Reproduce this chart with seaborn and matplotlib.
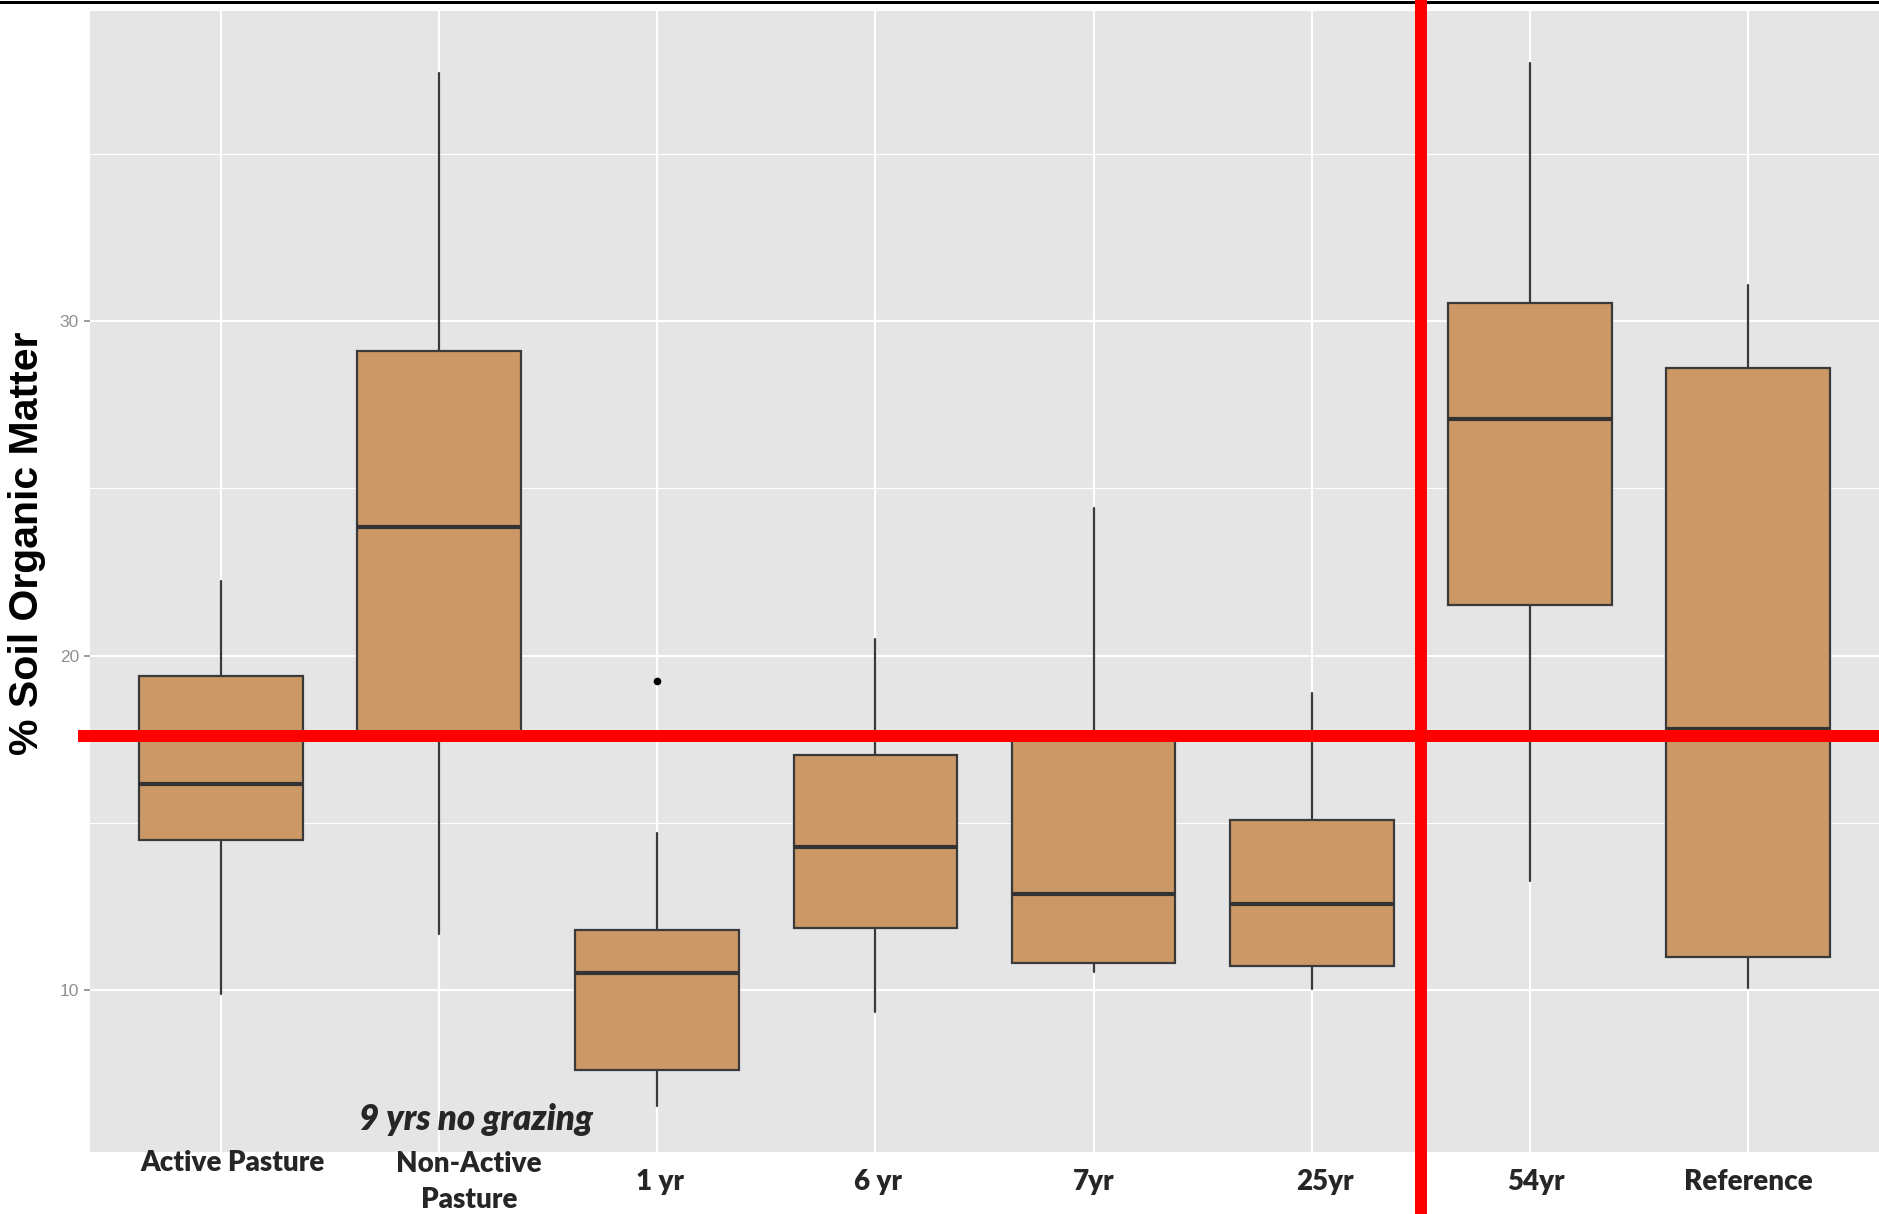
import matplotlib
matplotlib.use("Agg")
import matplotlib.pyplot as plt
import matplotlib.transforms as mtransforms
from matplotlib.lines import Line2D
import seaborn as sns

# Soil organic matter (%) summary statistics per land-use / restoration age
categories = ["Active Pasture", "Non-Active\nPasture", "1 yr", "6 yr", "7yr", "25yr", "54yr", "Reference"]
whisker_low = [9.89, 11.68, 6.52, 9.35, 10.54, 10.04, 13.26, 10.07]
q1 = [14.48, 17.60, 7.60, 11.86, 10.82, 10.72, 21.51, 11.00]
median = [16.16, 23.83, 10.50, 14.27, 12.87, 12.58, 27.06, 17.80]
q3 = [19.39, 29.10, 11.79, 17.03, 17.50, 15.09, 30.54, 28.60]
whisker_high = [22.22, 37.42, 14.70, 20.50, 24.41, 18.89, 37.71, 31.08]
outliers = [[], [], [19.25], [], [], [], [], []]

reference_level = 17.59      # horizontal marker across all groups
divider_position = 5.5       # vertical divider between 25yr and 54yr
note_text = "9 yrs no grazing"

sns.set_theme(style="darkgrid")
plt.rcParams["font.family"] = ["Liberation Sans", "DejaVu Sans"]

W, H = 1879, 1214
fig = plt.figure(figsize=(W / 100, H / 100), dpi=100)
fig.patch.set_facecolor("white")
ax = fig.add_axes([90 / W, (H - 1152) / H, (W - 90) / W, (1152 - 11) / H])
ax.set_facecolor("#E5E5E5")

stats = []
for i, name in enumerate(categories):
    stats.append(dict(label=name, whislo=whisker_low[i], q1=q1[i], med=median[i],
                      q3=q3[i], whishi=whisker_high[i], fliers=outliers[i]))

edge = "#3a3a3a"
ax.bxp(stats, positions=list(range(len(categories))), widths=0.75,
       patch_artist=True, showcaps=False, manage_ticks=False,
       boxprops=dict(facecolor="#CC9866", edgecolor=edge, linewidth=1.6),
       medianprops=dict(color="#333333", linewidth=3.0, solid_capstyle="butt"),
       whiskerprops=dict(color=edge, linewidth=1.6),
       flierprops=dict(marker="o", markerfacecolor="black", markeredgecolor="black",
                       markersize=4.5))

ax.set_xlim(-0.6, len(categories) - 0.4)
ax.set_ylim(5.157, 39.27)
ax.set_xticks(range(len(categories)))
ax.set_xticklabels([])
ax.set_yticks([10, 20, 30])
ax.set_yticks([15, 25, 35], minor=True)
ax.set_axisbelow(True)
ax.grid(which="major", color="white", linewidth=1.5)
ax.grid(which="minor", axis="y", color="white", linewidth=0.8)
ax.tick_params(axis="x", which="both", length=0)
ax.tick_params(axis="y", which="major", length=4, width=1.2, color="#8a8a8a",
               labelcolor="#8f8f8f", labelsize=12.5, pad=4, left=True)
ax.tick_params(axis="y", which="minor", length=0)
for s in ax.spines.values():
    s.set_visible(False)

# category labels below the panel
label_shift = [0.055, 0.137, 0.014, 0.01, 0.0, 0.06, 0.027, 0.0]
label_y = [1163, 1182, 1182, 1182, 1182, 1182, 1182, 1182]
xfig = mtransforms.blended_transform_factory(ax.transData, fig.transFigure)
for i, name in enumerate(categories):
    ax.text(i + label_shift[i], 1 - label_y[i] / H, name, transform=xfig,
            ha="center", va="center", fontsize=20, fontweight="heavy",
            family=["Lato", "DejaVu Sans"], linespacing=1.45, clip_on=False)

ax.text(476 / W, 1 - 1120 / H, note_text, transform=fig.transFigure,
        ha="center", va="center", fontsize=25, fontweight="heavy", fontstyle="italic",
        family=["Lato", "DejaVu Sans"])

fig.text(27 / W, 1 - 543 / H, "% Soil Organic Matter", rotation=90,
         ha="center", va="center", fontsize=29.5, fontweight="bold", color="black")

# red reference markers
red_w = 12 * 72 / 100
yfig = mtransforms.blended_transform_factory(fig.transFigure, ax.transData)
fig.add_artist(Line2D([78 / W, 1], [reference_level, reference_level], transform=yfig,
                      color="#FF0000", linewidth=red_w, solid_capstyle="butt", zorder=10))
fig.add_artist(Line2D([divider_position, divider_position], [0, 1], transform=xfig,
                      color="#FF0000", linewidth=red_w, solid_capstyle="butt", zorder=10))

# thin black rule along the top edge
fig.add_artist(Line2D([0, 1], [1 - 1.5 / H, 1 - 1.5 / H], transform=fig.transFigure,
                      color="black", linewidth=3 * 72 / 100, zorder=9))

fig.savefig("out.png", dpi=100)
